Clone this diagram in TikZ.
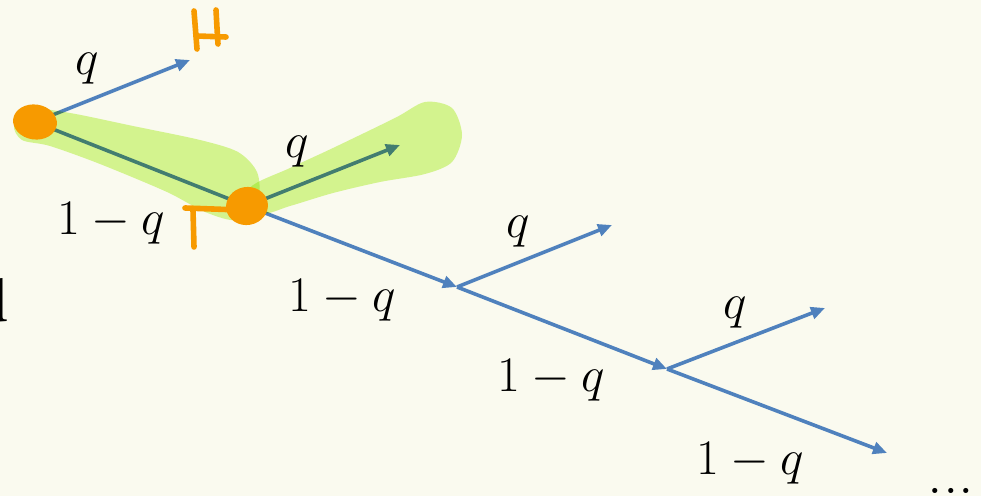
\documentclass[tikz,border=0pt]{standalone}
\usepackage{xcolor}
\usepackage{tikz}
\usepackage{amsmath,amssymb}
\usetikzlibrary{arrows.meta,shapes.geometric}
\definecolor{paper}{HTML}{FAFAEF}
\definecolor{branchblue}{HTML}{4F81BD}
\definecolor{marker}{HTML}{F79A00}
\definecolor{glow}{HTML}{D8F898}
\newcommand{\probfont}{\fontsize{31}{37}\selectfont}

\begin{document}
\begin{tikzpicture}[x=0.5pt, y=-0.5pt,
  branch/.style={draw=branchblue, line width=1.8pt, -{Triangle[length=7pt,width=6pt]}},
  prob/.style={inner sep=0pt, font=\probfont},
  toss/.style={fill=marker, ellipse, inner sep=0pt},
  pen/.style={draw=marker, line width=2.8pt, line cap=round, line join=round}]
\useasboundingbox (0,0) rectangle (981,496);
\fill[paper] (0,0) rectangle (981,496);
\clip (0,0) rectangle (981,496);

% branch points of the coin tosses
\coordinate (s0) at (35,122);
\coordinate (s1) at (247,206);
\coordinate (s2) at (457,287);
\coordinate (s3) at (667,369);
\coordinate (h0) at (190,60);
\coordinate (h1) at (400,145);
\coordinate (h2) at (612,225);
\coordinate (h3) at (825,308);
\coordinate (tail) at (887,453);

\draw[branch] (s0) -- (h0);
\draw[branch] (s0) -- (s1);
\draw[branch] (s1) -- (h1);
\draw[branch] (s1) -- (s2);
\draw[branch] (s2) -- (h2);
\draw[branch] (s2) -- (s3);
\draw[branch] (s3) -- (h3);
\draw[branch] (s3) -- (tail);

% highlighter strokes
\fill[glow, blend mode=multiply] plot[smooth cycle, tension=0.5] coordinates {
  (14,125) (30,109) (70,113) (133,126) (200,140) (238,152) (257,172)
  (258,198) (238,220) (205,212) (167,192) (100,164) (50,146) (22,140)};
\fill[glow, blend mode=multiply] plot[smooth cycle, tension=0.5] coordinates {
  (250,188) (290,168) (333,148) (395,118) (425,102) (452,108) (462,135)
  (452,162) (425,174) (380,182) (333,193) (290,206) (262,213)};

% pen marks
\node[toss, minimum width=22pt, minimum height=17.5pt, rotate=-8] (toss0) at (s0) {};
\node[toss, minimum width=21pt, minimum height=19pt, rotate=10] (toss1) at (s1) {};
\draw[pen] (194,11) .. controls (195,30) .. (197,49);
\draw[pen] (197,36) -- (226,37);
\draw[pen] (216,10) .. controls (217,28) .. (218,44);
\draw[pen] (185,208) -- (240,210);
\draw[pen] (193,210) .. controls (194,228) .. (194,247);

% probabilities
\node[prob] (p0) at (87,69) {$q$};
\node[prob] (r0) at (111,223) {$1-q$};
\node[prob] (p1) at (297,152) {$q$};
\node[prob] (r1) at (342,300) {$1-q$};
\node[prob] (p2) at (518,232) {$q$};
\node[prob] (r2) at (551,380) {$1-q$};
\node[prob] (p3) at (735,313) {$q$};
\node[prob] (r3) at (750,463) {$1-q$};
\node[prob, anchor=base] (more) at (951,494) {...};
\node[prob, anchor=base east] (cut) at (10,322) {d};
\end{tikzpicture}
\end{document}
